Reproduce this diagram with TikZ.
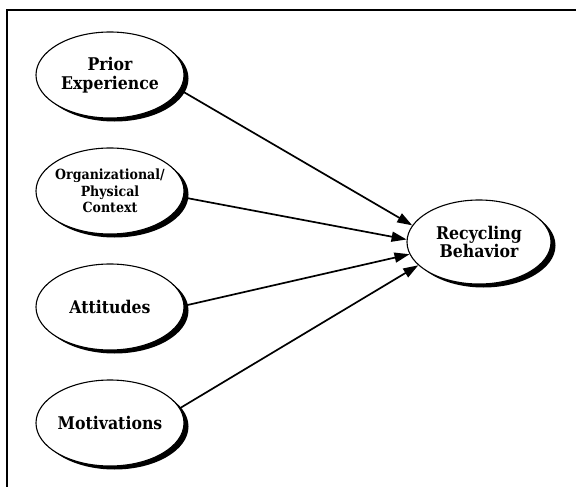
\documentclass[tikz,border=0pt]{standalone}
\usepackage{fontspec}
\newfontfamily\lblfont{DejaVu Serif}[FakeStretch=0.9]
\usetikzlibrary{shapes.geometric,shadows,arrows.meta}

\begin{document}
\begin{tikzpicture}[x=1pt,y=-1pt,
  bubble/.style={ellipse, draw=black, line width=1.1pt, fill=white,
    inner sep=0pt, minimum width=148pt, minimum height=86pt,
    drop shadow={shadow xshift=4.5pt, shadow yshift=-3.5pt, fill=black, opacity=1}},
  lbl/.style={font=\lblfont\bfseries\fontsize{17.5}{18.5}\selectfont,
    align=center, inner sep=0pt},
  smalllbl/.style={font=\lblfont\bfseries\fontsize{14}{16.5}\selectfont,
    align=center, inner sep=0pt},
  link/.style={line width=1.7pt, -{Triangle[length=15pt,width=10pt]}}]

\useasboundingbox (0,0) rectangle (576,487);

% open frame: top and left rules only
\draw[line width=2pt] (7,487) -- (7,10.5) -- (576,10.5);

% predictor ellipses
\node[bubble] (prior) at (110,75)  {};
\node[bubble] (org)   at (110,191) {};
\node[bubble] (att)   at (110,307) {};
\node[bubble] (mot)   at (110,423) {};
% outcome ellipse
\node[bubble, minimum width=144pt, minimum height=84pt] (rec) at (479,242) {};

% captions
\node[lbl]      (priorT) at (prior.center) {Prior\\Experience};
\node[smalllbl] (orgT)   at (org.center)   {Organizational/\\Physical\\Context};
\node[lbl]      (attT)   at (att.center)   {Attitudes};
\node[lbl]      (motT)   at (mot.center)   {Motivations};
\node[lbl]      (recT)   at (rec.center)   {Recycling\\Behavior};

% influences
\draw[link] (prior.-12) -- (rec.166);
\draw[link] (org.-5)    -- (rec.178);
\draw[link] (att.1)     -- (rec.190);
\draw[link] (mot.12)    -- (rec.201);
\end{tikzpicture}
\end{document}
